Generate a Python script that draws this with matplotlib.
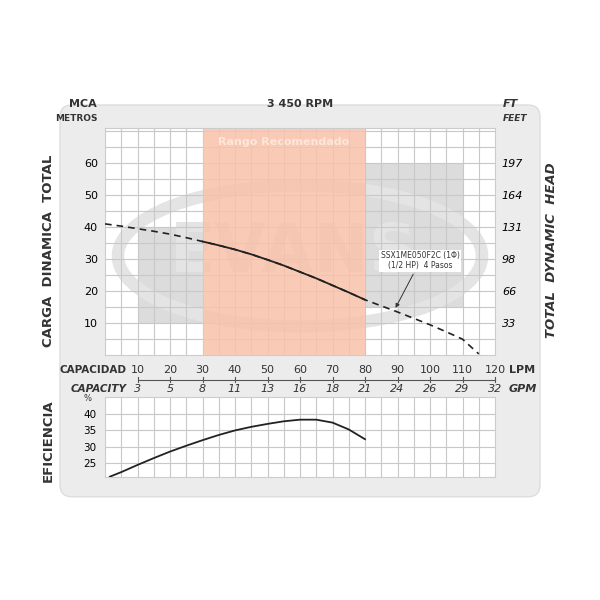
import matplotlib
matplotlib.use("Agg")
import matplotlib.pyplot as plt
import matplotlib.transforms as mtrans
from matplotlib.patches import FancyBboxPatch, Rectangle, Ellipse

lpm_ticks = [10, 20, 30, 40, 50, 60, 70, 80, 90, 100, 110, 120]
gpm_labels = ["3", "5", "8", "11", "13", "16", "18", "21", "24", "26", "29", "32"]
m_ticks = [10, 20, 30, 40, 50, 60]
ft_labels = ["33", "66", "98", "131", "164", "197"]
eff_ticks = [25, 30, 35, 40]

head_q = [0, 5, 10, 15, 20, 25, 30, 35, 40, 45, 50, 55, 60, 65, 70, 75, 80, 85, 90, 95, 100, 105, 110, 115]
head_h = [41, 40.3, 39.5, 38.7, 37.8, 36.7, 35.5, 34.3, 33.0, 31.5, 29.8, 28.0, 26.0, 24.0, 21.8, 19.6, 17.3, 15.4, 13.5, 11.5, 9.5, 7.3, 5.0, 0.4]
eff_q = [1.5, 5, 10, 15, 20, 25, 30, 35, 40, 45, 50, 55, 60, 65, 70, 75, 80]
eff_v = [20.8, 22.2, 24.4, 26.5, 28.5, 30.3, 32.0, 33.6, 35.0, 36.1, 37.0, 37.8, 38.3, 38.3, 37.4, 35.3, 32.3]
rec_range = (30, 80)

fig = plt.figure(figsize=(6, 6), dpi=100)
fig.patch.set_facecolor("white")
bg = fig.add_axes([0, 0, 1, 1], zorder=-5)
bg.set_xlim(0, 1); bg.set_ylim(0, 1); bg.axis("off")
bg.add_patch(FancyBboxPatch((0.1, 0.172), 0.8, 0.653, boxstyle="round,pad=0,rounding_size=0.02",
                            fc="#ececec", ec="#dddddd", lw=1))

ax = fig.add_axes([0.175, 0.408, 0.65, 0.379])
ax2 = fig.add_axes([0.175, 0.205, 0.65, 0.133])

for a in (ax, ax2):
    a.set_facecolor("white")
    a.set_xlim(0, 120)
    for s in a.spines.values():
        s.set_color("#cccccc")
    a.tick_params(length=0)
    for x in range(5, 120, 5):
        a.axvline(x, color="#c8c8c8", lw=0.8, zorder=1)

ax.set_ylim(0, 71)
for y in range(5, 71, 5):
    ax.axhline(y, color="#c8c8c8", lw=0.8, zorder=1)
ax.add_patch(Rectangle((10, 10), 20, 30, fc="#dcdcdc", ec="none", zorder=0.5))
ax.add_patch(Rectangle((80, 15), 30, 45, fc="#dcdcdc", ec="none", zorder=0.5))
ax.add_patch(Ellipse((60, 31), 112, 44, fc="none", ec="#e4e4e4", lw=9, zorder=0.8))
ax.text(58, 32, "EVANS", fontsize=48, fontweight="bold", color="#e4e4e4", ha="center", va="center", zorder=0.8)
ax.axvspan(*rec_range, color="#f9c2aa", alpha=0.85, zorder=1.5, lw=0)
ax.text(55, 66.5, "Rango Recomendado", color="#fde6dc", fontsize=8,
        fontweight="bold", ha="center", va="center", zorder=3)
ax.set_xticks([])
ax.set_yticks(m_ticks)
ax.set_yticklabels([str(v) for v in m_ticks], fontsize=8)
ax.tick_params(axis="y", pad=5)

solid = [(q, h) for q, h in zip(head_q, head_h) if rec_range[0] <= q <= rec_range[1]]
ax.plot(head_q, head_h, color="#222222", lw=1.2, ls=(0, (4, 3)), zorder=4)
ax.plot([p[0] for p in solid], [p[1] for p in solid], color="#222222", lw=1.3, zorder=4.5)
axr = ax.twinx()
axr.set_ylim(ax.get_ylim())
axr.set_yticks(m_ticks)
axr.set_yticklabels(ft_labels, fontsize=8, style="italic")
axr.tick_params(length=0, pad=5)
for s in axr.spines.values():
    s.set_visible(False)

ax.annotate("SSX1ME050F2C (1Φ)\n(1/2 HP)  4 Pasos", xy=(89, 14), xytext=(97, 29.5), fontsize=5.5,
            ha="center", va="center", color="#333333", zorder=5,
            bbox=dict(fc="white", ec="none", pad=1),
            arrowprops=dict(arrowstyle="-|>", color="#333333", lw=0.7, mutation_scale=6))

ax.text(-0.02, 1.09, "MCA", transform=ax.transAxes, ha="right", fontsize=8, fontweight="bold", color="#333")
ax.text(-0.02, 1.03, "METROS", transform=ax.transAxes, ha="right", fontsize=6.5, fontweight="bold", color="#333")
ax.text(0.5, 1.09, "3 450 RPM", transform=ax.transAxes, ha="center", fontsize=8, fontweight="bold", color="#333")
ax.text(1.02, 1.09, "FT", transform=ax.transAxes, ha="left", fontsize=8, fontweight="bold", style="italic", color="#333")
ax.text(1.02, 1.03, "FEET", transform=ax.transAxes, ha="left", fontsize=6.5, fontweight="bold", style="italic", color="#333")
ax.text(-0.145, 0.46, "CARGA  DINAMICA  TOTAL", transform=ax.transAxes, rotation=90, ha="center", va="center",
        fontsize=9.5, fontweight="bold", color="#333")
ax.text(1.145, 0.46, "TOTAL  DYNAMIC  HEAD", transform=ax.transAxes, rotation=90, ha="center", va="center",
        fontsize=9.5, fontweight="bold", style="italic", color="#333")

tr = mtrans.blended_transform_factory(ax.transData, ax.transAxes)
for q, g in zip(lpm_ticks, gpm_labels):
    ax.text(q, -0.045, str(q), transform=tr, ha="center", va="top", fontsize=8, color="#333")
    ax.text(q, -0.125, g, transform=tr, ha="center", va="top", fontsize=8, style="italic", color="#333")
    ax.plot([q, q], [-0.095, -0.12], transform=tr, color="#555", lw=0.8, clip_on=False)
ax.plot([10, 120], [-0.107, -0.107], transform=tr, color="#555", lw=0.8, clip_on=False)
ax.text(6.7, -0.045, "CAPACIDAD", transform=tr, ha="right", va="top", fontsize=7.5, fontweight="bold", color="#333")
ax.text(6.7, -0.125, "CAPACITY", transform=tr, ha="right", va="top", fontsize=7.5, fontweight="bold", style="italic", color="#333")
ax.text(1.035, -0.045, "LPM", transform=ax.transAxes, ha="left", va="top", fontsize=8, fontweight="bold", color="#333")
ax.text(1.035, -0.125, "GPM", transform=ax.transAxes, ha="left", va="top", fontsize=8, fontweight="bold", style="italic", color="#333")

ax2.set_ylim(20.7, 45.2)
for y in eff_ticks:
    ax2.axhline(y, color="#c8c8c8", lw=0.8, zorder=1)
ax2.set_xticks([])
ax2.set_yticks(eff_ticks)
ax2.set_yticklabels([str(v) for v in eff_ticks], fontsize=7.5)
ax2.tick_params(axis="y", pad=6)
ax2.plot(eff_q, eff_v, color="#222222", lw=1.3, zorder=4)
ax2.text(-0.035, 0.93, "%", transform=ax2.transAxes, ha="right", va="bottom", fontsize=6, color="#333")
ax2.text(-0.145, 0.45, "EFICIENCIA", transform=ax2.transAxes, rotation=90, ha="center", va="center",
         fontsize=9.5, fontweight="bold", color="#333")

fig.savefig("out.png", dpi=100)
